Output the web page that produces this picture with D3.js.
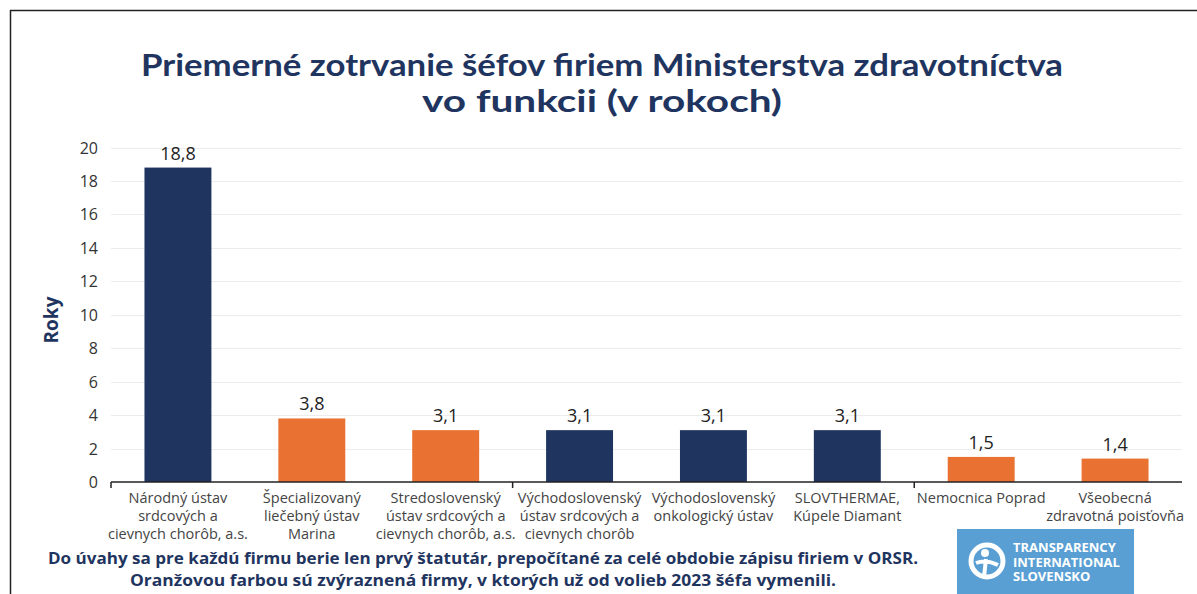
<!DOCTYPE html>
<html>
<head>
<meta charset="utf-8">
<script src="https://cdn.jsdelivr.net/npm/d3@7"></script>
<style>
  body { margin: 0; background: #fff; }
  svg { display: block; }
</style>
</head>
<body>
<div id="chart"></div>
<script>
// Data
const categories = [
    ["Národný ústav", "srdcových a", "cievnych chorôb, a.s."],
    ["Špecializovaný", "liečebný ústav", "Marina"],
    ["Stredoslovenský", "ústav srdcových a", "cievnych chorôb, a.s."],
    ["Východoslovenský", "ústav srdcových a", "cievnych chorôb"],
    ["Východoslovenský", "onkologický ústav"],
    ["SLOVTHERMAE,", "Kúpele Diamant"],
    ["Nemocnica Poprad"],
    ["Všeobecná", "zdravotná poisťovňa"]
];
const values = [18.8, 3.8, 3.1, 3.1, 3.1, 3.1, 1.5, 1.4];
const replaced = [false, true, true, false, false, false, true, true]; // orange = boss replaced since 2023
const yTicks = [0, 2, 4, 6, 8, 10, 12, 14, 16, 18, 20];
const titleLines = ["Priemerné zotrvanie šéfov firiem Ministerstva zdravotníctva", "vo funkcii (v rokoch)"];
const noteLines = [
    "Do úvahy sa pre každú firmu  berie len prvý štatutár, prepočítané za celé obdobie zápisu firiem  v ORSR.",
    "Oranžovou farbou sú zvýraznená firmy,  v ktorých už od volieb 2023 šéfa vymenili."
];

const W = 1197, H = 594;
const navy = "#1f3560", orange = "#e97131";

const svg = d3.select("#chart").append("svg")
    .attr("width", W)
    .attr("height", H);

// frame lines (top + left)
svg.append("line").attr("x1", 10).attr("y1", 10.5).attr("x2", W).attr("y2", 10.5)
    .attr("stroke", "#222").attr("stroke-width", 1.5);
svg.append("line").attr("x1", 10.5).attr("y1", 10).attr("x2", 10.5).attr("y2", H)
    .attr("stroke", "#222").attr("stroke-width", 1.5);

// title
const titleWidths = [922, 360];
svg.append("g").selectAll("text").data(titleLines).join("text")
    .attr("x", 602)
    .attr("y", (d, i) => 76 + i * 36)
    .attr("text-anchor", "middle")
    .attr("font-family", "Lato, 'Open Sans', sans-serif")
    .attr("font-weight", "bold")
    .attr("font-size", 30)
    .attr("textLength", (d, i) => titleWidths[i])
    .attr("lengthAdjust", "spacingAndGlyphs")
    .attr("fill", navy)
    .text(d => d);

const x = d3.scaleBand()
    .domain(d3.range(categories.length))
    .range([111, 1182])
    .paddingInner(0.5)
    .paddingOuter(0.25);

const y = d3.scaleLinear().domain([0, 20]).range([482, 147.5]);

// gridlines
svg.append("g").selectAll("line").data(yTicks.slice(1)).join("line")
    .attr("x1", 111).attr("x2", 1182)
    .attr("y1", d => Math.round(y(d)) + 0.5).attr("y2", d => Math.round(y(d)) + 0.5)
    .attr("stroke", "#ececec");

// y tick labels
svg.append("g").selectAll("text").data(yTicks).join("text")
    .attr("x", 98)
    .attr("y", d => y(d) + 6)
    .attr("text-anchor", "end")
    .attr("font-family", "'Open Sans', sans-serif")
    .attr("font-size", 16)
    .attr("fill", "#333")
    .text(d => d);

// y title
svg.append("text")
    .attr("transform", "translate(58,320) rotate(-90)")
    .attr("text-anchor", "middle")
    .attr("font-family", "'Open Sans', sans-serif")
    .attr("font-weight", "bold")
    .attr("font-size", 19)
    .attr("fill", navy)
    .text("Roky");

// bars
svg.append("g").selectAll("rect").data(values).join("rect")
    .attr("x", (d, i) => x(i))
    .attr("width", x.bandwidth())
    .attr("y", d => y(d))
    .attr("height", d => y(0) - y(d))
    .attr("fill", (d, i) => replaced[i] ? orange : navy);

// value labels
svg.append("g").selectAll("text").data(values).join("text")
    .attr("x", (d, i) => x(i) + x.bandwidth() / 2)
    .attr("y", d => y(d) - 8)
    .attr("text-anchor", "middle")
    .attr("font-family", "'Open Sans', sans-serif")
    .attr("font-size", 18)
    .attr("fill", "#222")
    .text(d => d3.format(".1f")(d).replace(".", ","));

// x axis line + group ticks
svg.append("line").attr("x1", 111).attr("x2", 1182).attr("y1", 482).attr("y2", 482)
    .attr("stroke", "#222").attr("stroke-width", 1.5);
const step = x.step();
[0, 3, 6].forEach(k => {
    const tx = 111 + k * step;
    svg.append("line").attr("x1", tx).attr("x2", tx).attr("y1", 482).attr("y2", 488)
        .attr("stroke", "#222").attr("stroke-width", 1.5);
});

// category labels
const catG = svg.append("g").selectAll("text").data(categories).join("text")
    .attr("text-anchor", "middle")
    .attr("font-family", "'Liberation Sans Narrow', 'Open Sans', sans-serif")
    .attr("font-size", 14.5)
    .attr("fill", "#444");
catG.selectAll("tspan").data((d, i) => d.map(t => ({ t, i }))).join("tspan")
    .attr("x", d => x(d.i) + x.bandwidth() / 2)
    .attr("y", (d, j) => 503 + j * 18)
    .text(d => d.t);

// footnote
const noteWidths = [870, 706];
svg.append("g").selectAll("text").data(noteLines).join("text")
    .attr("x", 483)
    .attr("y", (d, i) => 564 + i * 22)
    .attr("text-anchor", "middle")
    .attr("font-family", "'Open Sans', sans-serif")
    .attr("font-weight", "bold")
    .attr("font-size", 16)
    .attr("textLength", (d, i) => noteWidths[i])
    .attr("lengthAdjust", "spacingAndGlyphs")
    .attr("fill", navy)
    .text(d => d);

// logo
const logo = svg.append("g").attr("transform", "translate(957,529)");
logo.append("rect").attr("width", 177).attr("height", 65).attr("fill", "#5a9fd3");
logo.append("circle").attr("cx", 30).attr("cy", 32).attr("r", 16)
    .attr("fill", "none").attr("stroke", "#fff").attr("stroke-width", 5);
logo.append("circle").attr("cx", 28).attr("cy", 24).attr("r", 4).attr("fill", "#fff");
logo.append("path").attr("d", "M19,34 Q29,30 41,36 M29,30 L27,48")
    .attr("fill", "none").attr("stroke", "#fff").attr("stroke-width", 4);
logo.selectAll("text.t").data(["TRANSPARENCY", "INTERNATIONAL", "SLOVENSKO"]).join("text")
    .attr("x", 56)
    .attr("y", (d, i) => 23 + i * 14.5)
    .attr("font-family", "'Open Sans', sans-serif")
    .attr("font-weight", "bold")
    .attr("font-size", 13)
    .attr("fill", "#fff")
    .text(d => d);
</script>
</body>
</html>
